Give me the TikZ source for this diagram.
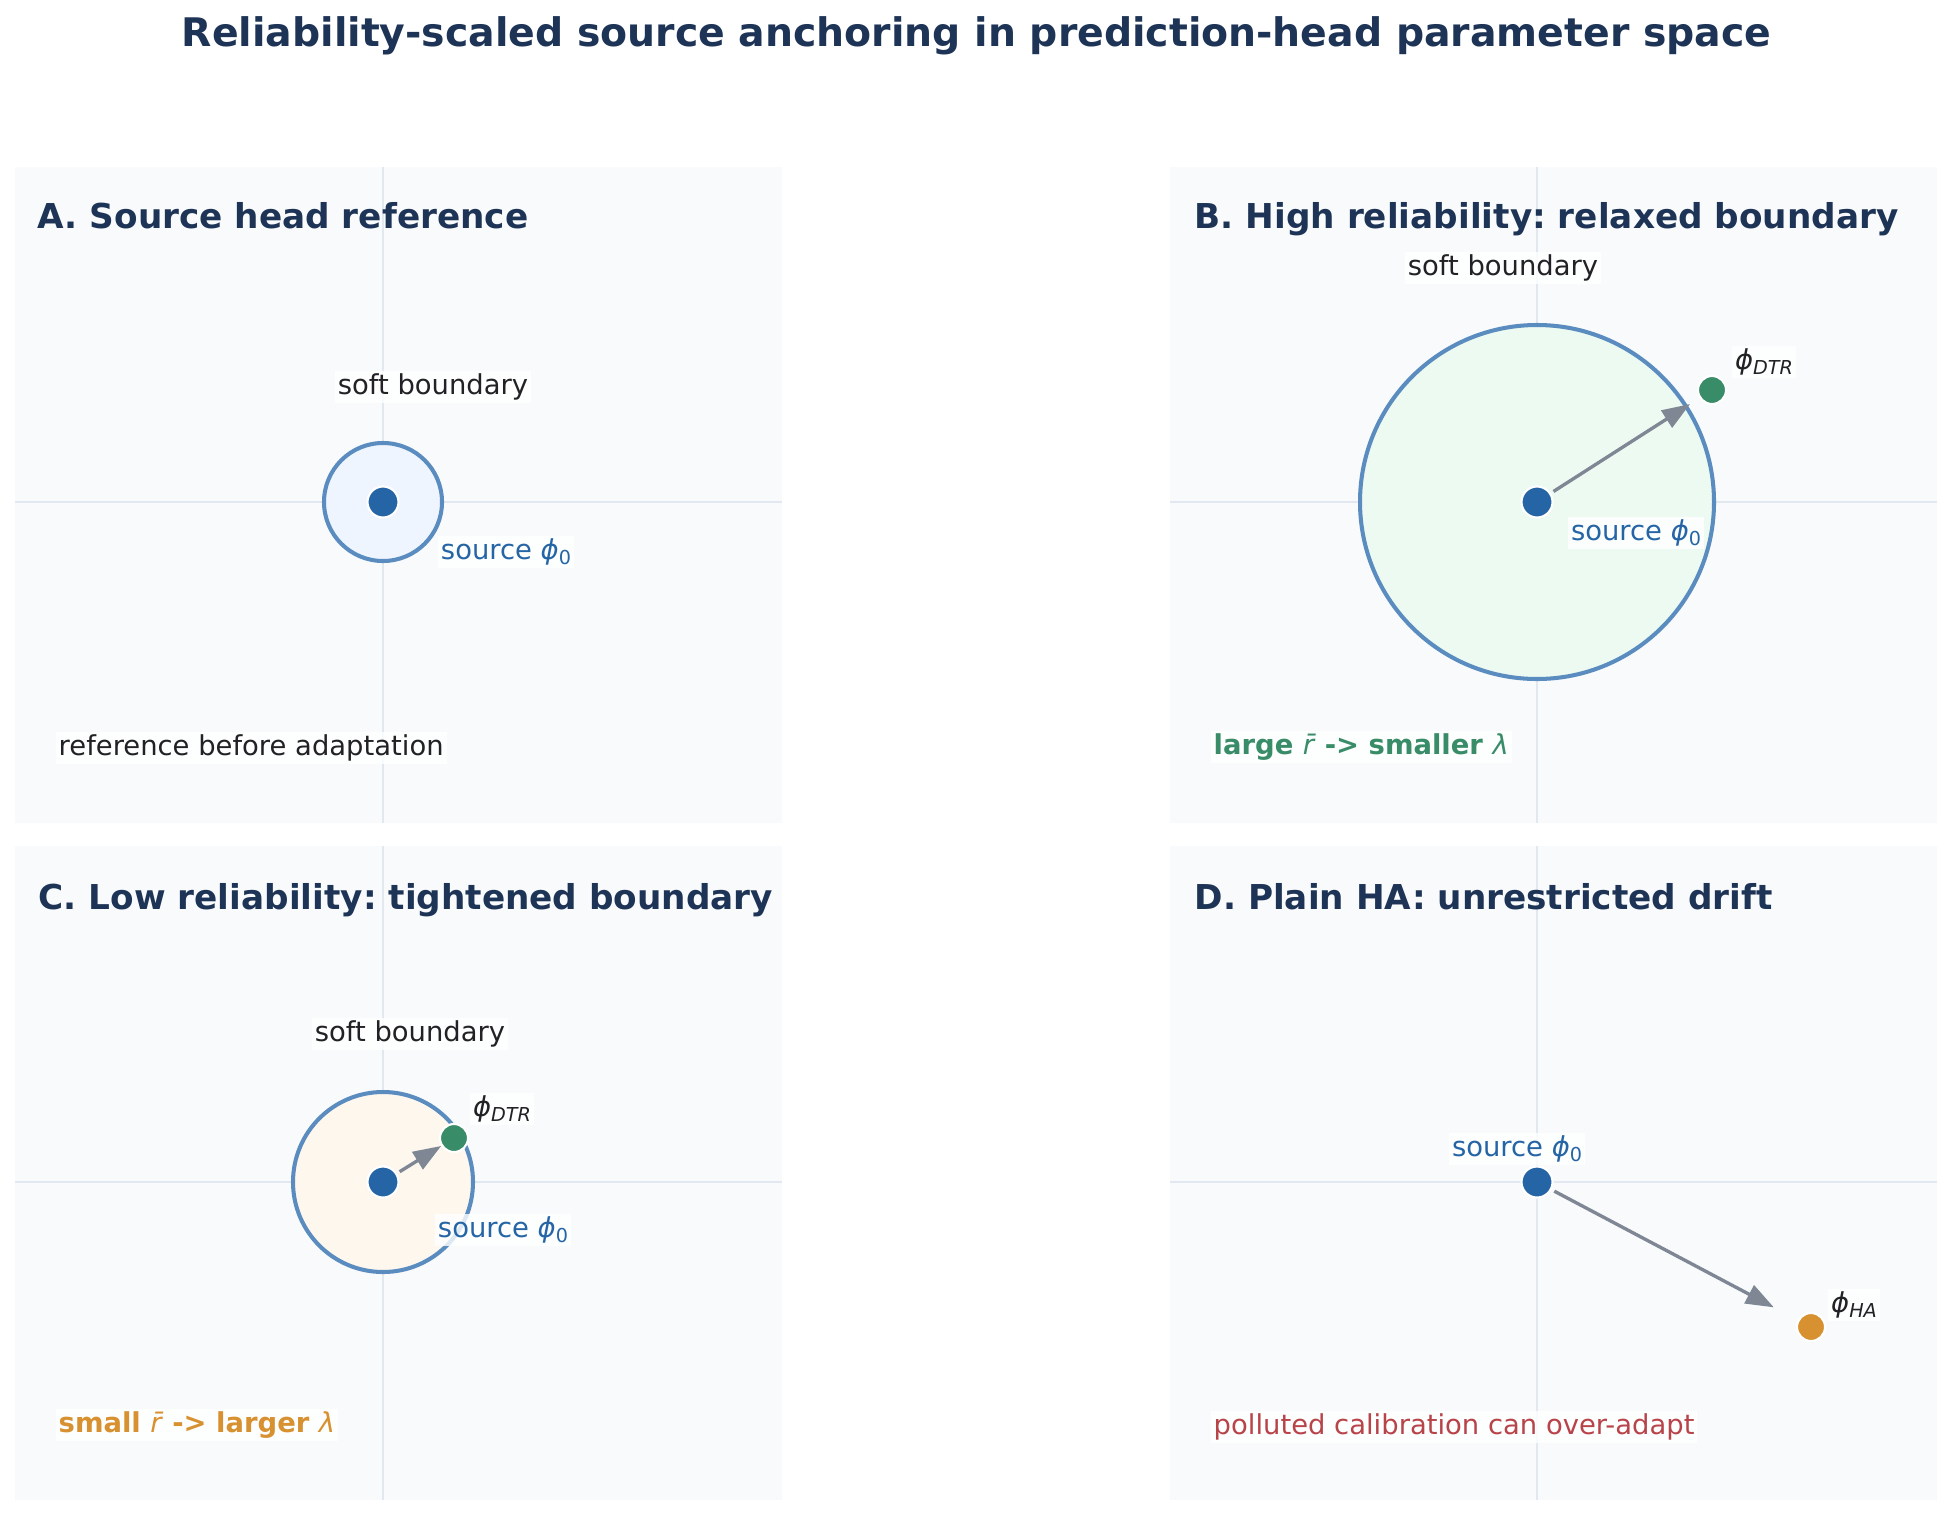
\documentclass[tikz,border=0pt]{standalone}
\usepackage{fontspec}
\setmainfont{DejaVu Sans}
\usetikzlibrary{arrows.meta}
\definecolor{navy1}{RGB}{30,52,86}
\definecolor{panelbg}{RGB}{248,250,252}
\definecolor{gridgray}{RGB}{226,232,240}
\definecolor{ringblue}{RGB}{90,140,192}
\definecolor{fillA}{RGB}{238,245,254}
\definecolor{fillB}{RGB}{236,250,242}
\definecolor{fillC}{RGB}{254,247,238}
\definecolor{srcblue}{RGB}{37,101,166}
\definecolor{green1}{RGB}{56,140,104}
\definecolor{orange1}{RGB}{216,145,48}
\definecolor{arrowgray}{RGB}{127,135,148}
\definecolor{txtdark}{RGB}{34,34,38}
\definecolor{red1}{RGB}{184,68,74}
\newcommand{\fstitle}{\fontsize{11.2}{14}\selectfont}
\newcommand{\fsptitle}{\fontsize{9.75}{12}\selectfont}
\newcommand{\fsnorm}{\fontsize{7.8}{9.4}\selectfont}
\newcommand{\lowsub}[1]{\raisebox{-0.3ex}{\scalebox{0.7}{#1}}}
\newcommand{\phz}{\textit{ϕ}\lowsub{0}}
\newcommand{\phs}[1]{\textit{ϕ}\lowsub{\textit{#1}}}
\frenchspacing

\begin{document}
\begin{tikzpicture}[
  panel/.style={fill=panelbg, draw=none},
  gridln/.style={draw=gridgray, line width=0.75pt},
  ring/.style={draw=ringblue, line width=1.15pt},
  dot/.style={circle, draw=white, line width=0.6pt, inner sep=0pt, minimum size=0.31cm},
  lbl/.style={fill=white, fill opacity=0.8, text opacity=1, inner sep=0.03cm, font=\fsnorm},
  ptitle/.style={anchor=base west, inner sep=0pt, font=\fsptitle\bfseries, text=navy1},
  drift/.style={-{Triangle[length=0.28cm, width=0.2cm]}, draw=arrowgray, line width=0.95pt}
]
\fill[white] (0,0) rectangle (19.49,15.14);
\useasboundingbox (0,0) rectangle (19.49,15.14);

% Figure title
\node[font=\fstitle\bfseries, text=navy1, anchor=base] (title) at (9.765, 14.675)
  {Reliability-scaled source anchoring in prediction-head parameter space};

% Panel backgrounds and axes
\fill[panel] (0.15, 6.91) rectangle (7.82, 13.47);
\fill[panel] (11.70, 6.91) rectangle (19.37, 13.47);
\fill[panel] (0.15, 0.14) rectangle (7.82, 6.68);
\fill[panel] (11.70, 0.14) rectangle (19.37, 6.68);
\draw[gridln] (3.83, 6.91) -- (3.83, 13.47);
\draw[gridln] (0.15, 10.12) -- (7.82, 10.12);
\draw[gridln] (15.37, 6.91) -- (15.37, 13.47);
\draw[gridln] (11.70, 10.12) -- (19.37, 10.12);
\draw[gridln] (3.83, 0.14) -- (3.83, 6.68);
\draw[gridln] (0.15, 3.32) -- (7.82, 3.32);
\draw[gridln] (15.37, 0.14) -- (15.37, 6.68);
\draw[gridln] (11.70, 3.32) -- (19.37, 3.32);

% A: source head reference
\draw[ring, fill=fillA] (3.83, 10.12) circle (0.59);
\node[dot, fill=srcblue] (srcA) at (3.83, 10.12) {};
\node[ptitle] (titA) at (0.37, 12.85) {A. Source head reference};
\node[lbl, text=txtdark] (bndA) at (4.33, 11.27) {soft boundary};
\node[lbl, text=srcblue] (labA) at (5.06, 9.62) {source \phz};
\node[lbl, text=txtdark, anchor=west] (noteA) at (0.55, 7.66) {reference before adaptation};

% B: high reliability
\draw[ring, fill=fillB] (15.37, 10.12) circle (1.77);
\node[dot, fill=srcblue] (srcB) at (15.37, 10.12) {};
\node[dot, fill=green1, minimum size=0.28cm] (dtrB) at (17.12, 11.24) {};
\draw[drift, shorten <=0.03cm, shorten >=0.11cm] (srcB) -- (dtrB);
\node[ptitle] (titB) at (11.94, 12.85) {B. High reliability: relaxed boundary};
\node[lbl, text=txtdark] (bndB) at (15.03, 12.46) {soft boundary};
\node[lbl, text=txtdark] (phB) at (17.64, 11.52) {\phs{DTR}};
\node[lbl, text=srcblue] (labB) at (16.36, 9.81) {source \phz};
\node[lbl, text=green1, font=\fsnorm\bfseries, anchor=west] (noteB) at (12.10, 7.67)
  {large \textmd{\textit{\=r}} -> smaller \textmd{\textit{λ}}};

% C: low reliability
\draw[ring, fill=fillC] (3.83, 3.32) circle (0.90);
\node[dot, fill=srcblue] (srcC) at (3.83, 3.32) {};
\node[dot, fill=green1, minimum size=0.28cm] (dtrC) at (4.54, 3.76) {};
\draw[drift, shorten <=0.03cm, shorten >=0.0cm] (srcC) -- (dtrC);
\node[ptitle] (titC) at (0.38, 6.05) {C. Low reliability: tightened boundary};
\node[lbl, text=txtdark] (bndC) at (4.10, 4.80) {soft boundary};
\node[lbl, text=txtdark] (phC) at (5.02, 4.05) {\phs{DTR}};
\node[lbl, text=srcblue] (labC) at (5.03, 2.84) {source \phz};
\node[lbl, text=orange1, font=\fsnorm\bfseries, anchor=west] (noteC) at (0.55, 0.89)
  {small \textmd{\textit{\=r}} -> larger \textmd{\textit{λ}}};

% D: plain HA
\node[dot, fill=srcblue] (srcD) at (15.37, 3.32) {};
\node[dot, fill=orange1, minimum size=0.28cm] (haD) at (18.11, 1.87) {};
\draw[drift, shorten <=0.03cm, shorten >=0.27cm] (srcD) -- (haD);
\node[ptitle] (titD) at (11.94, 6.05) {D. Plain HA: unrestricted drift};
\node[lbl, text=srcblue] (labD) at (15.17, 3.65) {source \phz};
\node[lbl, text=txtdark] (phD) at (18.54, 2.09) {\phs{HA}};
\node[lbl, text=red1, anchor=west] (noteD) at (12.10, 0.87) {polluted calibration can over-adapt};

\end{tikzpicture}
\end{document}
